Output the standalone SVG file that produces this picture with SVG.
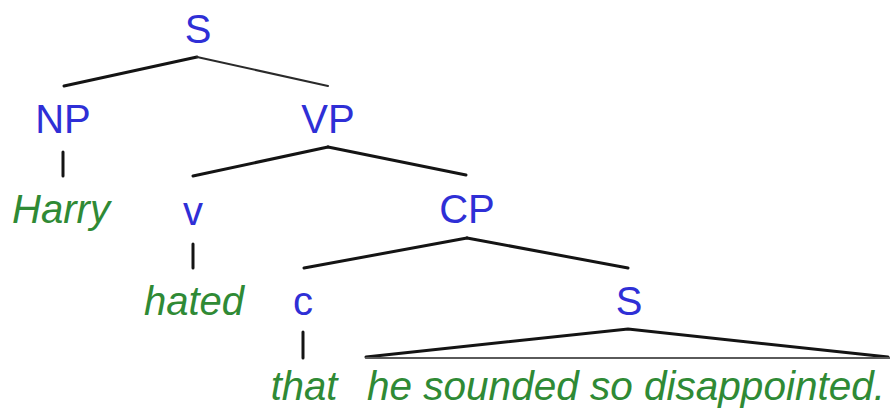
<svg xmlns="http://www.w3.org/2000/svg" width="890" height="412" viewBox="0 0 890 412">
  <style>
    .cat { font-family: "Liberation Sans", Arial, sans-serif; font-size: 40px; fill: #2f2fd6; text-anchor: middle; }
    .word { font-family: "Liberation Sans", Arial, sans-serif; font-size: 40px; font-style: italic; fill: #2f8a35; text-anchor: middle; }
    .edge { stroke: #141414; stroke-width: 3; stroke-linecap: round; fill: none; }
    .thin { stroke: #2a2a2a; stroke-width: 2; }
    .base { stroke: #5a5a5a; stroke-width: 2; }
  </style>
  <rect width="890" height="412" fill="#ffffff"/>

  <g id="connectors">
    <line class="edge" x1="197" y1="57" x2="64" y2="86"/>
    <line class="edge thin" x1="197" y1="57" x2="328" y2="86"/>
    <line class="edge" x1="63" y1="152" x2="63" y2="176"/>
    <line class="edge" x1="328" y1="147" x2="193" y2="176"/>
    <line class="edge" x1="328" y1="147" x2="466" y2="175"/>
    <line class="edge" x1="193" y1="244" x2="193" y2="268"/>
    <line class="edge" x1="467" y1="238" x2="304" y2="268"/>
    <line class="edge" x1="467" y1="238" x2="628" y2="268"/>
    <line class="edge" x1="303" y1="332" x2="303" y2="358"/>
    <polyline class="edge" points="366,357 628,329 888,357"/>
    <line class="edge base" x1="366" y1="358" x2="890" y2="358"/>
  </g>

  <g id="node-s"><text class="cat" x="198" y="43">S</text></g>
  <g id="node-np"><text class="cat" x="63" y="133">NP</text></g>
  <g id="node-vp"><text class="cat" x="328" y="133">VP</text></g>
  <g id="word-harry"><text class="word" x="61" y="223">Harry</text></g>
  <g id="node-v"><text class="cat" x="193" y="225">v</text></g>
  <g id="node-cp"><text class="cat" x="467" y="223">CP</text></g>
  <g id="word-hated"><text class="word" x="194" y="315">hated</text></g>
  <g id="node-c"><text class="cat" x="303" y="315">c</text></g>
  <g id="node-s2"><text class="cat" x="629" y="315">S</text></g>
  <g id="word-that"><text class="word" x="304" y="400">that</text></g>
  <g id="clause"><text class="word" x="626" y="400" textLength="518" lengthAdjust="spacingAndGlyphs">he sounded so disappointed.</text></g>
</svg>
